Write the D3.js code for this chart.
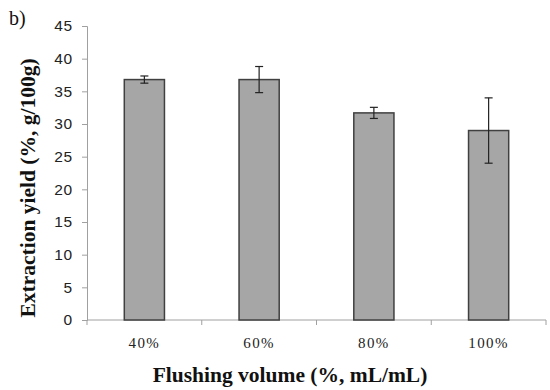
<!DOCTYPE html>
<html>
<head>
<meta charset="utf-8">
<script src="https://cdn.jsdelivr.net/npm/d3@7"></script>
<style>
  body { margin: 0; background: #fff; }
  svg { font-family: "Liberation Serif", "Times New Roman", serif; }
</style>
</head>
<body>
<div id="chart"></div>
<script>
// data
const categories = ['40%', '60%', '80%', '100%'];
const yields = [36.8, 36.8, 31.7, 29.0];
const errors = [0.55, 2.0, 0.85, 5.0];
const yTicks = [0, 5, 10, 15, 20, 25, 30, 35, 40, 45];

const width = 550;
const height = 390;
const margin = { top: 26, right: 4, bottom: 70, left: 87 };

const svg = d3.select('#chart')
  .append('svg')
  .attr('width', width)
  .attr('height', height);

const x = d3.scaleBand()
  .domain(categories)
  .range([margin.left, width - margin.right])
  .paddingInner(0.65)
  .paddingOuter(0.325);

const xOuter = d3.scaleBand()
  .domain(categories)
  .range([margin.left, width - margin.right]);

const y = d3.scaleLinear()
  .domain([0, 45])
  .range([height - margin.bottom, margin.top]);

// y axis
const yAxis = svg.append('g')
  .attr('transform', `translate(${margin.left},0)`)
  .call(d3.axisLeft(y).tickValues(yTicks).tickSize(5).tickPadding(9));
yAxis.select('.domain').attr('stroke', '#a0a0a0');
yAxis.selectAll('.tick line').attr('stroke', '#a0a0a0');
yAxis.selectAll('.tick text')
  .attr('font-size', 15.5)
  .attr('letter-spacing', 0.8)
  .attr('fill', '#222');

// x axis: ticks on the category boundaries
const xAxisG = svg.append('g')
  .attr('transform', `translate(0,${y(0)})`);
xAxisG.append('line')
  .attr('x1', margin.left).attr('x2', width - margin.right)
  .attr('stroke', '#a0a0a0');
const bounds = categories.map(c => xOuter(c)).concat([width - margin.right]);
xAxisG.selectAll('.xtick')
  .data(bounds)
  .join('line')
  .attr('x1', d => d).attr('x2', d => d)
  .attr('y1', 0).attr('y2', 5)
  .attr('stroke', '#a0a0a0');
xAxisG.selectAll('.xlabel')
  .data(categories)
  .join('text')
  .attr('x', d => xOuter(d) + xOuter.bandwidth() / 2)
  .attr('y', 28)
  .attr('text-anchor', 'middle')
  .attr('font-size', 15)
  .attr('letter-spacing', 1.4)
  .attr('fill', '#222')
  .text(d => d);

// bars
svg.append('g')
  .selectAll('rect')
  .data(categories)
  .join('rect')
  .attr('x', d => x(d))
  .attr('y', (d, i) => y(yields[i]))
  .attr('width', x.bandwidth())
  .attr('height', (d, i) => y(0) - y(yields[i]))
  .attr('fill', '#a6a6a6')
  .attr('stroke', '#404040')
  .attr('stroke-width', 1.5);

// error bars
const eb = svg.append('g')
  .attr('stroke', '#222')
  .attr('stroke-width', 1.2);
categories.forEach((c, i) => {
  const cx = x(c) + x.bandwidth() / 2;
  const top = y(yields[i] + errors[i]);
  const bot = y(yields[i] - errors[i]);
  eb.append('line').attr('x1', cx).attr('x2', cx).attr('y1', top).attr('y2', bot);
  eb.append('line').attr('x1', cx - 4).attr('x2', cx + 4).attr('y1', top).attr('y2', top);
  eb.append('line').attr('x1', cx - 4).attr('x2', cx + 4).attr('y1', bot).attr('y2', bot);
});

// titles
svg.append('text')
  .attr('transform', 'translate(35,188) rotate(-90)')
  .attr('text-anchor', 'middle')
  .attr('font-size', 21.5)
  .attr('font-weight', 'bold')
  .attr('fill', '#111')
  .text('Extraction yield (%, g/100g)');

svg.append('text')
  .attr('x', 290)
  .attr('y', 382)
  .attr('text-anchor', 'middle')
  .attr('font-size', 21.5)
  .attr('font-weight', 'bold')
  .attr('fill', '#111')
  .text('Flushing volume (%, mL/mL)');

svg.append('text')
  .attr('x', 9)
  .attr('y', 25)
  .attr('font-size', 20)
  .attr('fill', '#111')
  .text('b)');
</script>
</body>
</html>
